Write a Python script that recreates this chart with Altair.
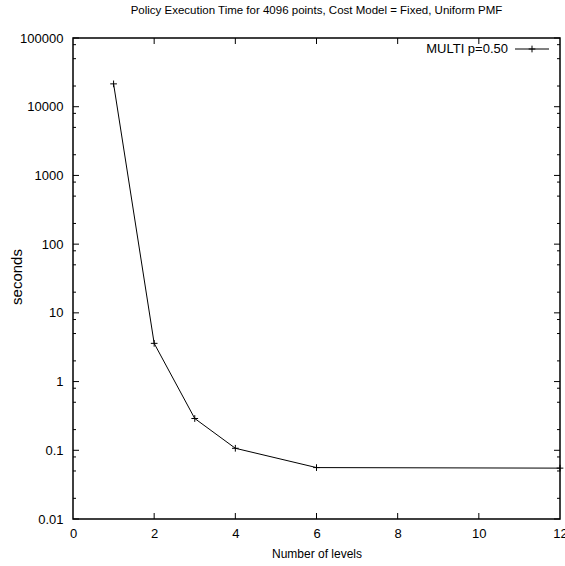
import altair as alt
import pandas as pd

levels = [1, 2, 3, 4, 6, 12]
seconds = [21500, 3.6, 0.29, 0.107, 0.056, 0.055]
series_name = "MULTI p=0.50"

x_major = [2, 4, 6, 8, 10]
y_major = [0.01, 0.1, 1, 10, 100, 1000, 10000, 100000]
y_minor = [m * d for d in [0.01, 0.1, 1, 10, 100, 1000, 10000] for m in (2, 5, 8)]

W, H = 487, 481
FONT = "Liberation Sans"

df = pd.DataFrame({"levels": levels, "seconds": seconds})
xscale = alt.Scale(domain=[0, 12], nice=False, zero=False)
yscale = alt.Scale(type="log", domain=[0.01, 100000], nice=False)

xax = alt.Axis(values=[0, 2, 4, 6, 8, 10, 12], ticks=False, domain=False, grid=False,
               labelFlush=False,
               labelFontSize=13, labelFont=FONT, labelColor="black", labelPadding=8,
               title="Number of levels", titleFontSize=12, titleFont=FONT,
               titleFontWeight="normal", titleColor="black", titlePadding=8)
yax = alt.Axis(values=y_major, format="~g", ticks=False, domain=False, grid=False,
               labelFlush=False,
               labelFontSize=13, labelFont=FONT, labelColor="black", labelPadding=10,
               title="seconds", titleFontSize=15, titleFont=FONT,
               titleFontWeight="normal", titleColor="black",
               titleAngle=-90, titleX=-57, titleY=H / 2 - 2, titleAlign="center",
               titleBaseline="middle")

line = alt.Chart(df).mark_line(color="black", strokeWidth=1, clip=True).encode(
    x=alt.X("levels:Q", scale=xscale, axis=xax),
    y=alt.Y("seconds:Q", scale=yscale, axis=yax),
)
pts = alt.Chart(df).mark_point(shape="M-1,0H1M0,-1V1", size=45, filled=False,
                               color="black", strokeWidth=1, opacity=1).encode(
    x=alt.X("levels:Q", scale=xscale), y=alt.Y("seconds:Q", scale=yscale))

xt = pd.DataFrame({"v": x_major})
xt_bot = alt.Chart(xt).mark_rule(color="black").encode(
    x=alt.X("v:Q", scale=xscale), y=alt.value(H), y2=alt.value(H - 6))
xt_top = alt.Chart(xt).mark_rule(color="black").encode(
    x=alt.X("v:Q", scale=xscale), y=alt.value(0), y2=alt.value(6))

ymj = pd.DataFrame({"v": y_major})
ymn = pd.DataFrame({"v": y_minor})
yt_l = alt.Chart(ymj).mark_rule(color="black").encode(
    y=alt.Y("v:Q", scale=yscale), x=alt.value(0), x2=alt.value(6))
yt_r = alt.Chart(ymj).mark_rule(color="black").encode(
    y=alt.Y("v:Q", scale=yscale), x=alt.value(W), x2=alt.value(W - 6))
ym_l = alt.Chart(ymn).mark_rule(color="black").encode(
    y=alt.Y("v:Q", scale=yscale), x=alt.value(0), x2=alt.value(3))
ym_r = alt.Chart(ymn).mark_rule(color="black").encode(
    y=alt.Y("v:Q", scale=yscale), x=alt.value(W), x2=alt.value(W - 3))

leg = pd.DataFrame({"name": [series_name]})
leg_text = alt.Chart(leg).mark_text(align="right", baseline="middle", fontSize=13,
                                    font=FONT, color="black").encode(
    text="name:N", x=alt.value(435), y=alt.value(11))
leg_line = alt.Chart(leg).mark_rule(color="black", strokeWidth=1).encode(
    x=alt.value(442), x2=alt.value(476), y=alt.value(11))
leg_pt = alt.Chart(leg).mark_point(shape="M-1,0H1M0,-1V1", size=45, filled=False,
                                   color="black", strokeWidth=1, opacity=1).encode(
    x=alt.value(459), y=alt.value(11))

chart = alt.layer(line, pts, xt_bot, xt_top, yt_l, yt_r, ym_l, ym_r,
                  leg_text, leg_line, leg_pt).properties(
    width=W, height=H,
    title=alt.Title("Policy Execution Time for 4096 points, Cost Model = Fixed, Uniform PMF",
                    fontSize=11.5, font=FONT, fontWeight="normal", color="black",
                    anchor="middle", offset=16),
    autosize=alt.AutoSizeParams(type="none"),
    padding={"left": 73, "top": 38, "right": 5, "bottom": 47},
    background="white",
).configure_view(stroke="black", strokeWidth=1.5)

chart.save("out.html", embed_options={"renderer": "svg", "actions": False})
